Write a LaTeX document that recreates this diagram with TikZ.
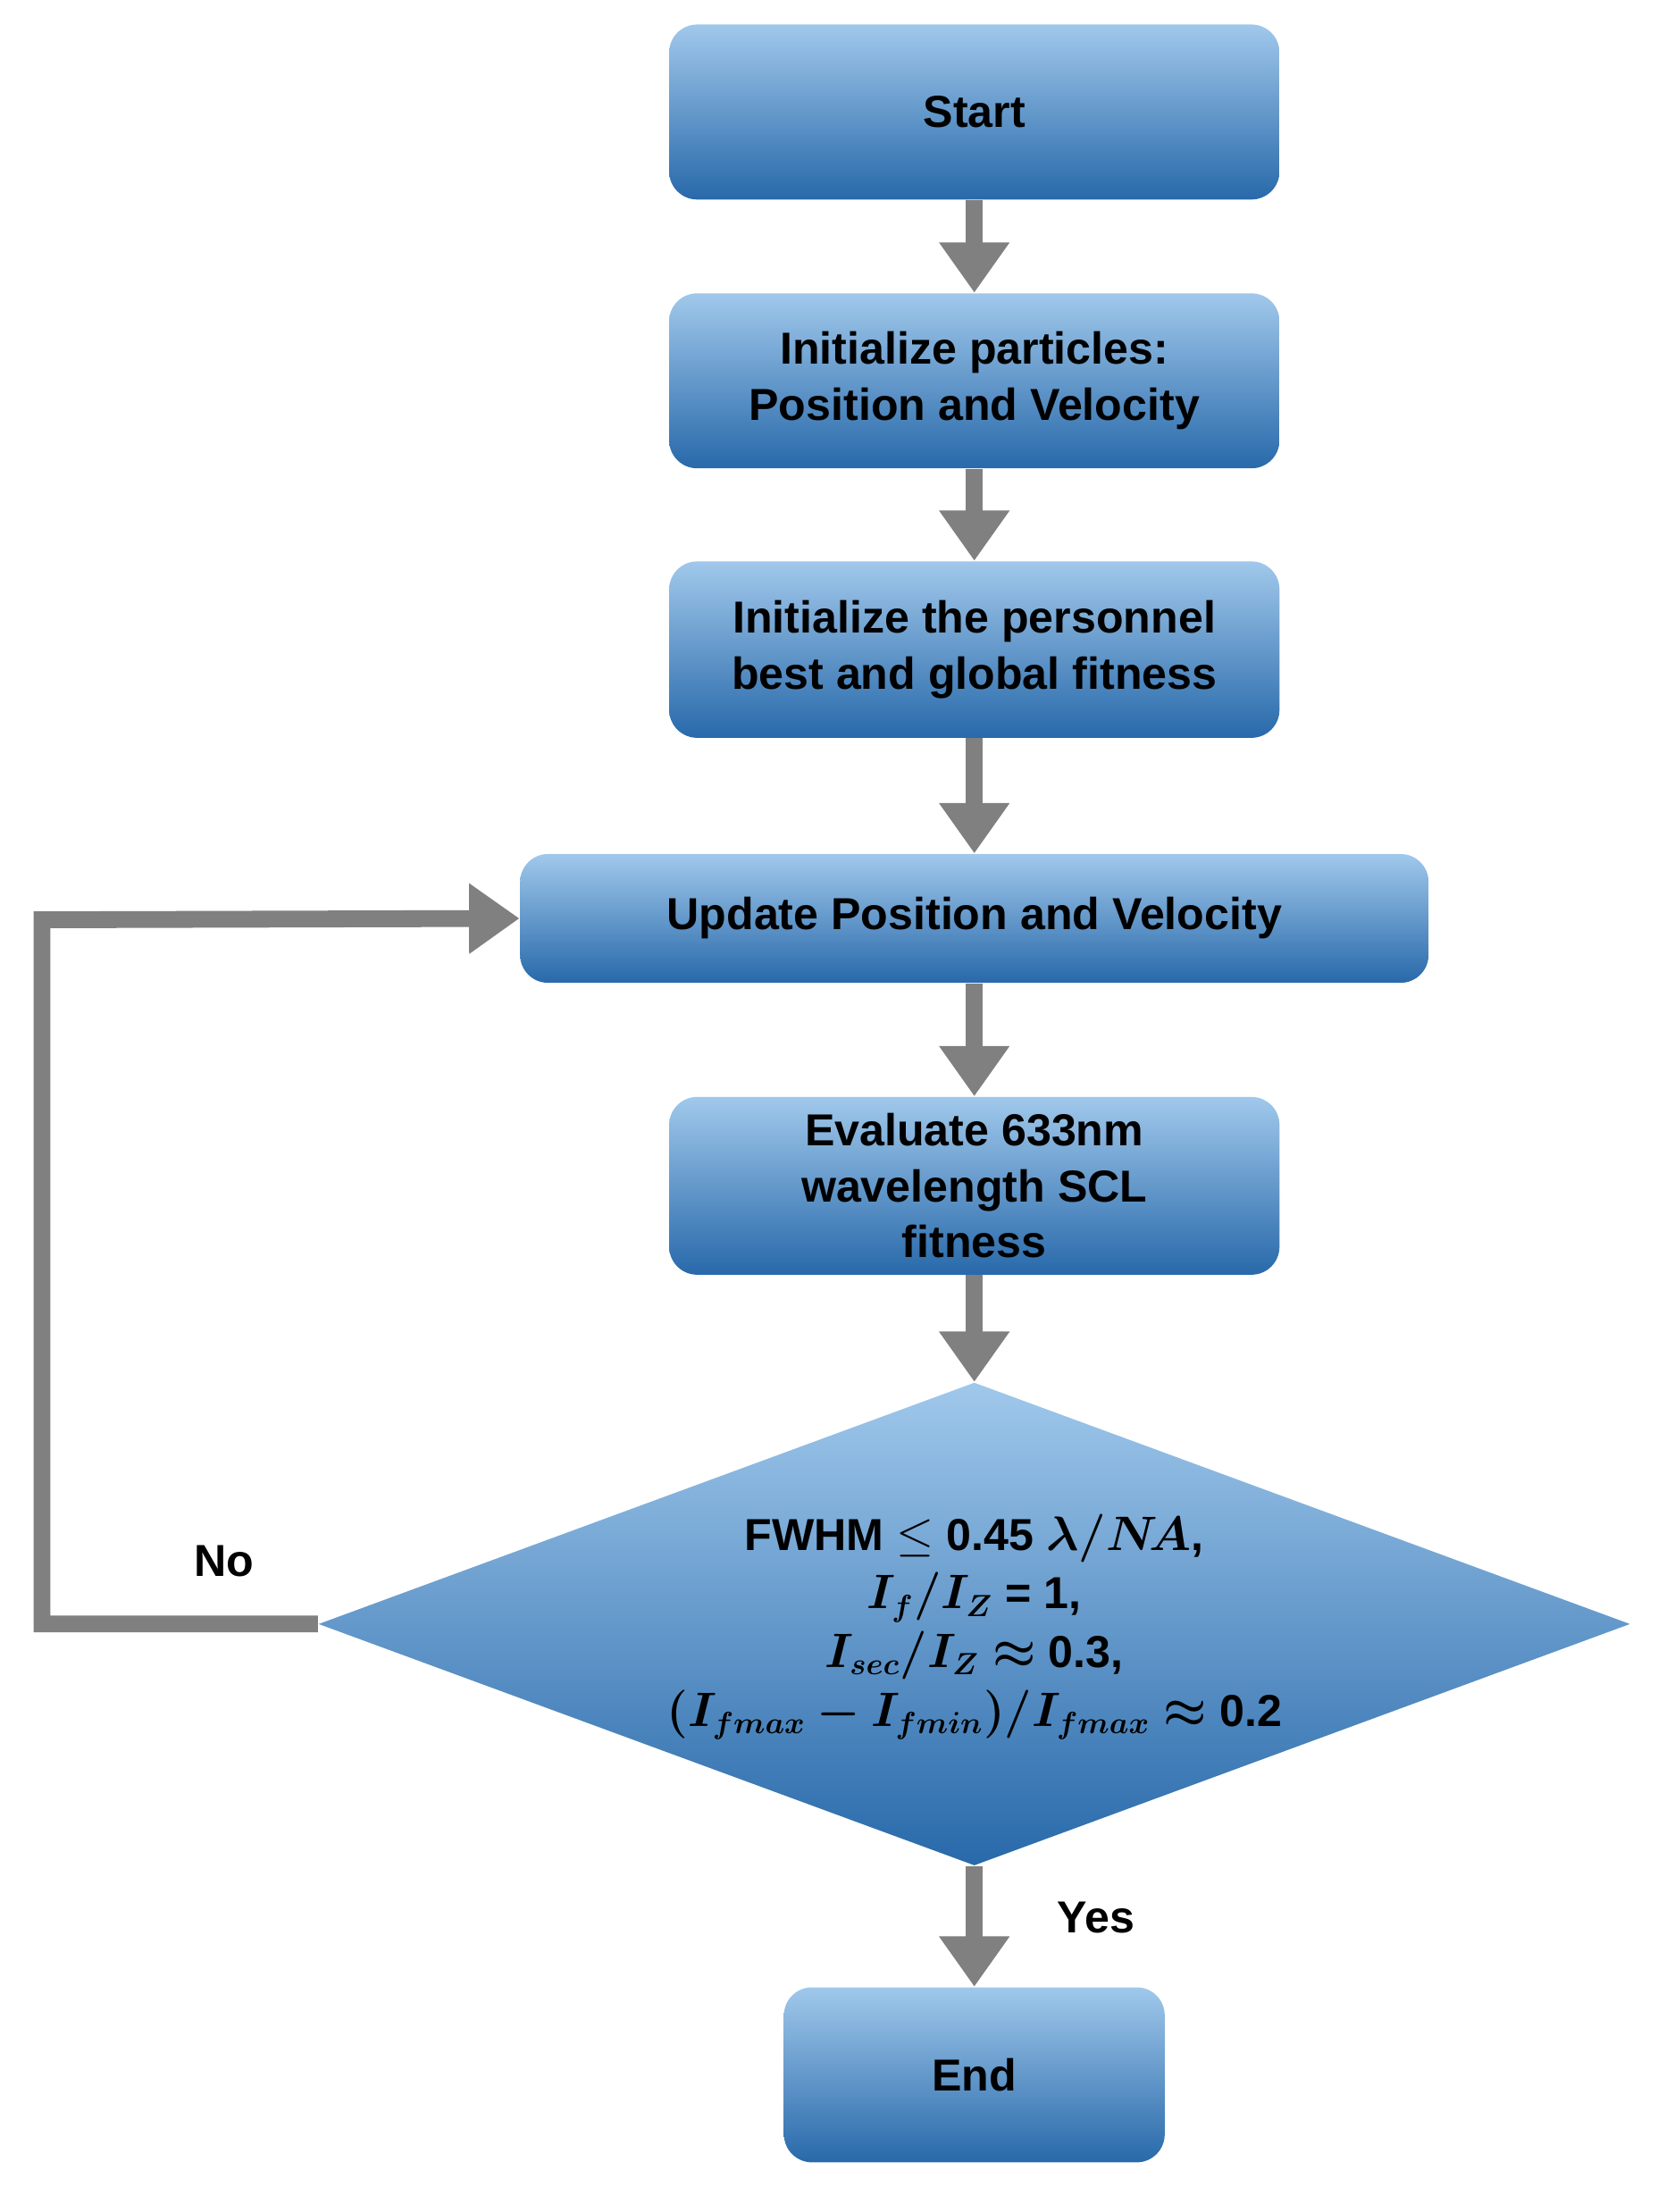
\documentclass[tikz,border=0pt]{standalone}
\usepackage{amsmath,bm}
\usepackage{fontspec}
\setmainfont{Liberation Sans}
\usetikzlibrary{shapes.geometric,arrows.meta}
\begin{document}
\begin{tikzpicture}[x=0.5pt,y=-0.5pt,
 box/.style={rounded corners=10pt,top color=blue!20!cyan!30!white!90!black,bottom color=blue!60!cyan!60!black,
   draw=none,align=center,font=\bfseries\fontsize{16}{20}\selectfont,text=black,inner sep=0pt},
 arr/.style={draw=black!50,line width=6pt,-{Triangle[length=18pt,width=24pt]}},
 lbl/.style={font=\bfseries\fontsize{16}{20}\selectfont}]
\useasboundingbox (0,0) rectangle (1190,1580);
\tikzset{box/.append style={top color={rgb,255:red,160;green,200;blue,235},bottom color={rgb,255:red,40;green,105;blue,170}}}
\node[box,minimum width=218pt,minimum height=62.5pt] (s) at (696,80) {Start};
\node[box,minimum width=218pt,minimum height=62.5pt] (p) at (696,272) {Initialize particles:\\Position and Velocity};
\node[box,minimum width=218pt,minimum height=63pt] (b) at (696,464) {Initialize the personnel\\best and global fitness};
\node[box,minimum width=324.5pt,minimum height=46pt] (u) at (696,656) {Update Position and Velocity};
\node[box,minimum width=218pt,minimum height=63.5pt] (e) at (696,847) {Evaluate 633nm\\wavelength SCL\\fitness};
\node[diamond,shading=axis,top color={rgb,255:red,160;green,200;blue,235},bottom color={rgb,255:red,40;green,105;blue,170},
  minimum width=468.5pt,minimum height=172.5pt,inner sep=0pt] (d) at (696,1160) {};
\node[align=center,font=\bfseries\fontsize{16}{21}\selectfont] (dt) at (696,1162)
 {FWHM $\le$ 0.45 $\bm{\lambda/N\!A}$,\\ $\bm{I_f/I_Z}$ = 1,\\ $\bm{I_{sec}/I_Z\approx}$ 0.3,\\ $\bm{(I_{fmax}-I_{fmin})/I_{fmax}\approx}$ 0.2};
\node[box,minimum width=136pt,minimum height=62.5pt] (end) at (696,1482) {End};
\coordinate (c1) at (30,1160);
\coordinate (c2) at (30,657);
\draw[arr] (s) -- (p);
\draw[arr] (p) -- (b);
\draw[arr] (b) -- (u);
\draw[arr] (u) -- (e);
\draw[arr] (e) -- (d);
\draw[arr] (d) -- (end);
\draw[arr] (d.west) -- (c1) -- (c2) -- (u.west);
\node[lbl] (no) at (160,1115) {No};
\node[lbl] (yes) at (783,1370) {Yes};
\end{tikzpicture}
\end{document}
